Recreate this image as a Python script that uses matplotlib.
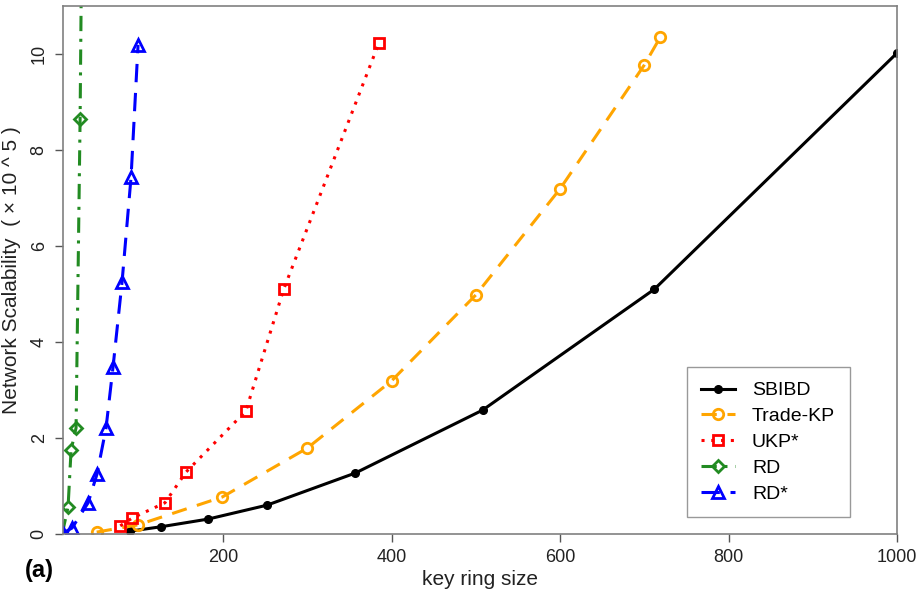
import matplotlib
matplotlib.use("Agg")
import matplotlib.pyplot as plt

plt.rcParams['font.family'] = ['Liberation Sans', 'DejaVu Sans']

# Data (key ring size vs network scalability, x 10^5)
sbibd_x = [90, 126, 182, 252, 357, 508, 712, 1000]
sbibd_y = [0.06, 0.15, 0.31, 0.60, 1.27, 2.58, 5.10, 10.02]

tradekp_x = [50, 99, 199, 300, 400, 500, 600, 700, 719]
tradekp_y = [0.04, 0.19, 0.77, 1.79, 3.19, 4.98, 7.19, 9.77, 10.35]

ukp_x = [78, 92, 131, 156, 227, 272, 385]
ukp_y = [0.17, 0.33, 0.65, 1.29, 2.56, 5.10, 10.23]

rd_x = [9, 16, 19.6, 25.5, 30.3, 36]
rd_y = [0.0, 0.56, 1.75, 2.21, 8.65, 20.0]

rdstar_x = [10, 20.8, 39.8, 50.4, 61.1, 69.4, 80.1, 90.8, 99.1]
rdstar_y = [0.02, 0.125, 0.65, 1.25, 2.21, 3.48, 5.25, 7.44, 10.19]

labels = ["SBIBD", "Trade-KP", "UKP*", "RD", "RD*"]
xticks = [200, 400, 600, 800, 1000]
yticks = [0, 2, 4, 6, 8, 10]

fig = plt.figure(figsize=(9.22, 5.89), dpi=100)
ax = fig.add_axes([63/922, 1 - 534/589, (897-63)/922, (534-6)/589])

ax.plot(sbibd_x, sbibd_y, color='black', lw=2.2, marker='o', ms=5.5,
        label=labels[0])
ax.plot(tradekp_x, tradekp_y, color='#FFA500', lw=2.2, ls=(0, (5, 3.5)),
        marker='o', ms=7.5, mfc='none', mew=2, label=labels[1])
ax.plot(ukp_x, ukp_y, color='#FF0000', lw=2.2, ls=(0, (1, 2.2)),
        marker='s', ms=7.5, mfc='none', mew=2, label=labels[2])
ax.plot(rd_x, rd_y, color='#228B22', lw=2.2, ls=(0, (5, 2.5, 1, 2.5)),
        marker='D', ms=6.5, mfc='none', mew=2, label=labels[3])
ax.plot(rdstar_x, rdstar_y, color='#0000FF', lw=2.2, ls=(0, (6, 3.5)),
        marker='^', ms=9, mfc='none', mew=2, label=labels[4])

ax.set_xlim(10, 1000)
ax.set_ylim(0, 11)
ax.set_xticks(xticks)
ax.set_yticks(yticks)
ax.set_yticklabels([str(v) for v in yticks], rotation=90, va='center')

for s in ax.spines.values():
    s.set_color('#808080')
    s.set_linewidth(1.2)
ax.tick_params(axis='both', direction='out', length=6, width=1,
               color='#555555', labelsize=13, labelcolor='#222222', pad=5)

ax.set_xlabel("key ring size", fontsize=15, labelpad=3, color='#222222')
ax.set_ylabel("Network Scalability  ( × 10 ^ 5 )", fontsize=15,
              labelpad=7, color='#222222')

leg = ax.legend(loc='lower left', bbox_to_anchor=(0.748, 0.032),
                fontsize=14, frameon=True, fancybox=False,
                handlelength=1.75, handletextpad=0.85, labelspacing=0.42,
                borderpad=0.75, borderaxespad=0)
leg.get_frame().set_edgecolor('#808080')
leg.get_frame().set_linewidth(1.0)

fig.text(39/922, 1 - 571/589, "(a)", fontsize=17, fontweight='bold',
         ha='center', va='center')

fig.savefig("out.png", dpi=100)
